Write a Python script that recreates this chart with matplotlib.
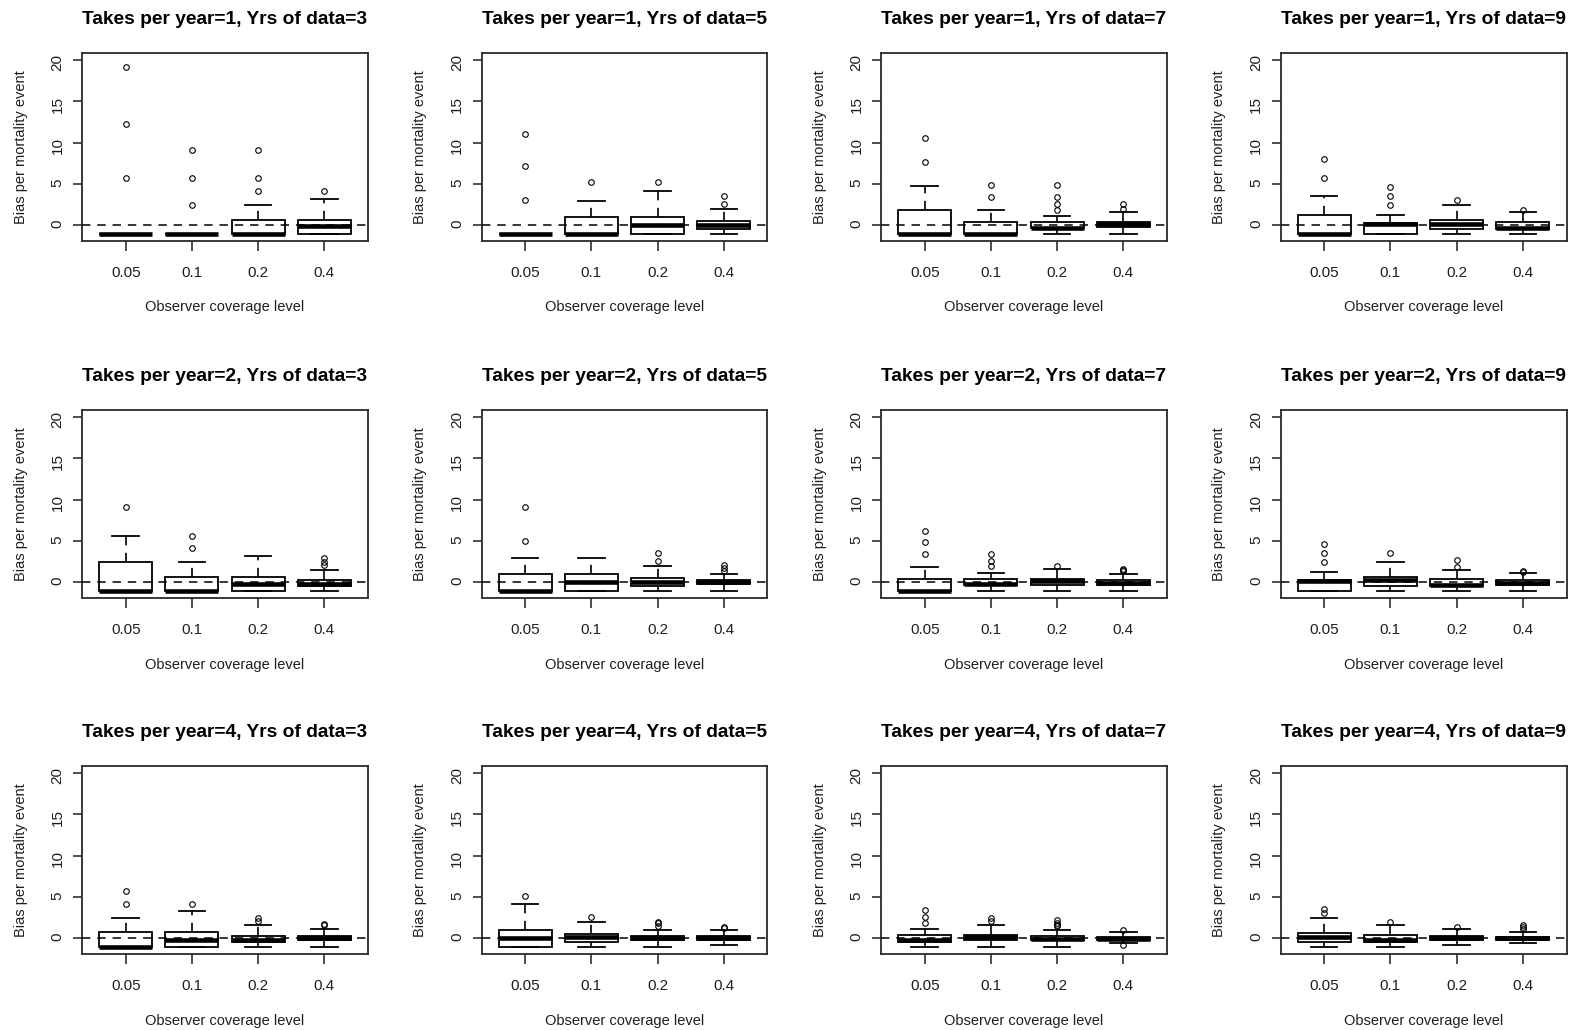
import matplotlib
matplotlib.use("Agg")
import matplotlib.pyplot as plt

plt.rcParams['font.family'] = ['Liberation Sans', 'DejaVu Sans']

TAKES = [1, 2, 4]
YEARS = [3, 5, 7, 9]
COVERAGE = ['0.05', '0.1', '0.2', '0.4']

# box statistics: [takes row][years col][coverage]
Q1 = [
    [[-1, -1, -1, -1], [-1, -1, -1, -0.4], [-1, -1, -0.35, -0.25], [-1, -1, -0.45, -0.45]],
    [[-1, -1, -1, -0.45], [-1, -1, -0.45, -0.15], [-1, -0.35, -0.3, -0.3], [-1, -0.45, -0.45, -0.3]],
    [[-1, -1, -0.5, -0.25], [-1, -0.4, -0.15, -0.15], [-0.4, -0.25, -0.25, -0.15], [-0.4, -0.4, -0.25, -0.15]],
]
MED = [
    [[-1, -1, -1, -0.1], [-1, -1, 0, 0], [-1, -1, -0.3, 0.1], [-1, 0.2, 0.1, -0.3]],
    [[-1, -1, -0.15, -0.2], [-1, 0, 0.05, 0.05], [-1, -0.2, 0.1, -0.1], [0.15, 0.25, -0.3, -0.1]],
    [[-1, -0.15, -0.25, 0], [0, 0.15, 0, 0], [-0.15, 0.15, -0.05, -0.05], [0.2, -0.2, 0, 0]],
]
Q3 = [
    [[-1, -1, 0.7, 0.7], [-1, 1.0, 1.0, 0.55], [1.8, 0.4, 0.4, 0.4], [1.2, 0.3, 0.7, 0.45]],
    [[2.4, 0.65, 0.65, 0.25], [0.95, 0.95, 0.5, 0.3], [0.4, 0.4, 0.4, 0.3], [0.3, 0.65, 0.35, 0.25]],
    [[0.75, 0.75, 0.3, 0.3], [1.0, 0.55, 0.25, 0.25], [0.35, 0.4, 0.3, 0.1], [0.7, 0.35, 0.3, 0.2]],
]
WHISK_LO = [
    [[-1, -1, -1, -1], [-1, -1, -1, -1], [-1, -1, -1, -1], [-1, -1, -1, -1]],
    [[-1, -1, -1, -1], [-1, -1, -1, -1], [-1, -1, -1, -1], [-1, -1, -1, -1]],
    [[-1, -1, -1, -1], [-1, -1, -1, -0.85], [-1, -1, -1, -0.55], [-1, -1, -0.85, -0.55]],
]
WHISK_HI = [
    [[-1, -1, 2.4, 3.2], [-1, 2.9, 4.1, 2.0], [4.8, 1.85, 1.1, 1.55], [3.5, 1.25, 2.4, 1.55]],
    [[5.6, 2.4, 3.15, 1.5], [2.95, 2.95, 1.95, 0.95], [1.8, 1.15, 1.55, 0.95], [1.25, 2.4, 1.5, 1.1]],
    [[2.4, 3.25, 1.55, 1.1], [4.1, 2.0, 1.0, 1.0], [1.15, 1.55, 1.0, 0.75], [2.4, 1.55, 1.15, 0.75]],
]
OUTLIERS = [
    [[[19.1, 12.3, 5.7], [9.1, 5.7, 2.5], [9.1, 5.7, 4.2], [4.2]],
     [[11.1, 7.2, 3.0], [5.2], [5.2], [2.6, 3.6]],
     [[7.7, 10.5], [3.4, 4.85], [1.9, 2.6, 3.4, 4.85], [2.0, 2.6]],
     [[5.7, 8.0], [2.5, 3.6, 4.6], [3.0], [1.9]]],
    [[[9.05], [4.1, 5.65], [], [2.05, 2.45, 2.9]],
     [[5.05, 9.05], [], [2.55, 3.6], [1.4, 1.75, 2.1]],
     [[3.4, 4.85, 6.2], [1.95, 2.6, 3.45], [1.95], [1.35, 1.45, 1.6]],
     [[2.45, 3.6, 4.6], [3.6], [1.9, 2.7], [1.3, 1.4]]],
    [[[4.15, 5.7], [4.15], [2.15, 2.5], [1.55, 1.7]],
     [[5.15], [2.6], [1.45, 1.8, 1.95], [1.25, 1.35]],
     [[1.9, 2.6, 3.4], [2.05, 2.4], [1.45, 1.65, 1.9, 2.2], [1.0, -0.85]],
     [[3.05, 3.5], [1.95], [1.35], [1.1, 1.35, 1.55]]],
]

TEXT = '#1e1e1e'
FIG_W, FIG_H = 1570, 1030
LEFTS = [82, 481.5, 881, 1280.5]
TOPS = [53, 410, 766]
AX_W, AX_H = 286, 187.5

fig = plt.figure(figsize=(FIG_W / 100, FIG_H / 100), dpi=100)

for r, takes in enumerate(TAKES):
    for c, yrs in enumerate(YEARS):
        ax = fig.add_axes([LEFTS[c] / FIG_W, 1 - (TOPS[r] + AX_H) / FIG_H,
                           AX_W / FIG_W, AX_H / FIG_H])
        stats = []
        for k, lab in enumerate(COVERAGE):
            stats.append({
                'label': lab,
                'q1': Q1[r][c][k], 'med': MED[r][c][k], 'q3': Q3[r][c][k],
                'whislo': WHISK_LO[r][c][k], 'whishi': WHISK_HI[r][c][k],
                'fliers': OUTLIERS[r][c][k],
            })
        ax.bxp(stats, positions=range(1, len(COVERAGE) + 1), widths=0.8,
               capwidths=0.4, patch_artist=True, showfliers=True,
               boxprops=dict(facecolor='white', edgecolor='black', linewidth=1.3),
               medianprops=dict(color='black', linewidth=3.3, solid_capstyle='butt'),
               whiskerprops=dict(color='black', linewidth=1.2, linestyle=(0, (5.5, 4.5))),
               capprops=dict(color='black', linewidth=1.3),
               flierprops=dict(marker='o', markersize=4, markerfacecolor='none',
                               markeredgecolor='black', markeredgewidth=0.8))
        ax.axhline(0, color='black', linewidth=1.1, linestyle=(0, (5.5, 4.5)), zorder=4)

        ax.set_xlim(0.34, 4.66)
        ax.set_ylim(-1.84, 20.84)
        ax.set_yticks([0, 5, 10, 15, 20])
        ax.set_xticks(range(1, len(COVERAGE) + 1))
        ax.set_xticklabels(COVERAGE)
        ax.tick_params(axis='x', direction='out', length=7, width=1.1, pad=11.5,
                       labelsize=11, colors=TEXT)
        ax.tick_params(axis='y', direction='out', length=6.5, width=1.1, pad=6,
                       labelsize=11, colors=TEXT, labelrotation=90)
        for sp in ax.spines.values():
            sp.set_linewidth(1.3)
            sp.set_color('#2a2a2a')

        ax.set_title(f'Takes per year={takes}, Yrs of data={yrs}',
                     fontsize=13.8, fontweight='bold', color='black', pad=21)
        ax.set_xlabel('Observer coverage level', fontsize=10.5, color=TEXT)
        ax.set_ylabel('Bias per mortality event', fontsize=10.5, color=TEXT)
        ax.xaxis.set_label_coords(0.5, -0.32)
        ax.yaxis.set_label_coords(-0.19, 0.5)

fig.savefig('out.png', dpi=100, facecolor='white')
